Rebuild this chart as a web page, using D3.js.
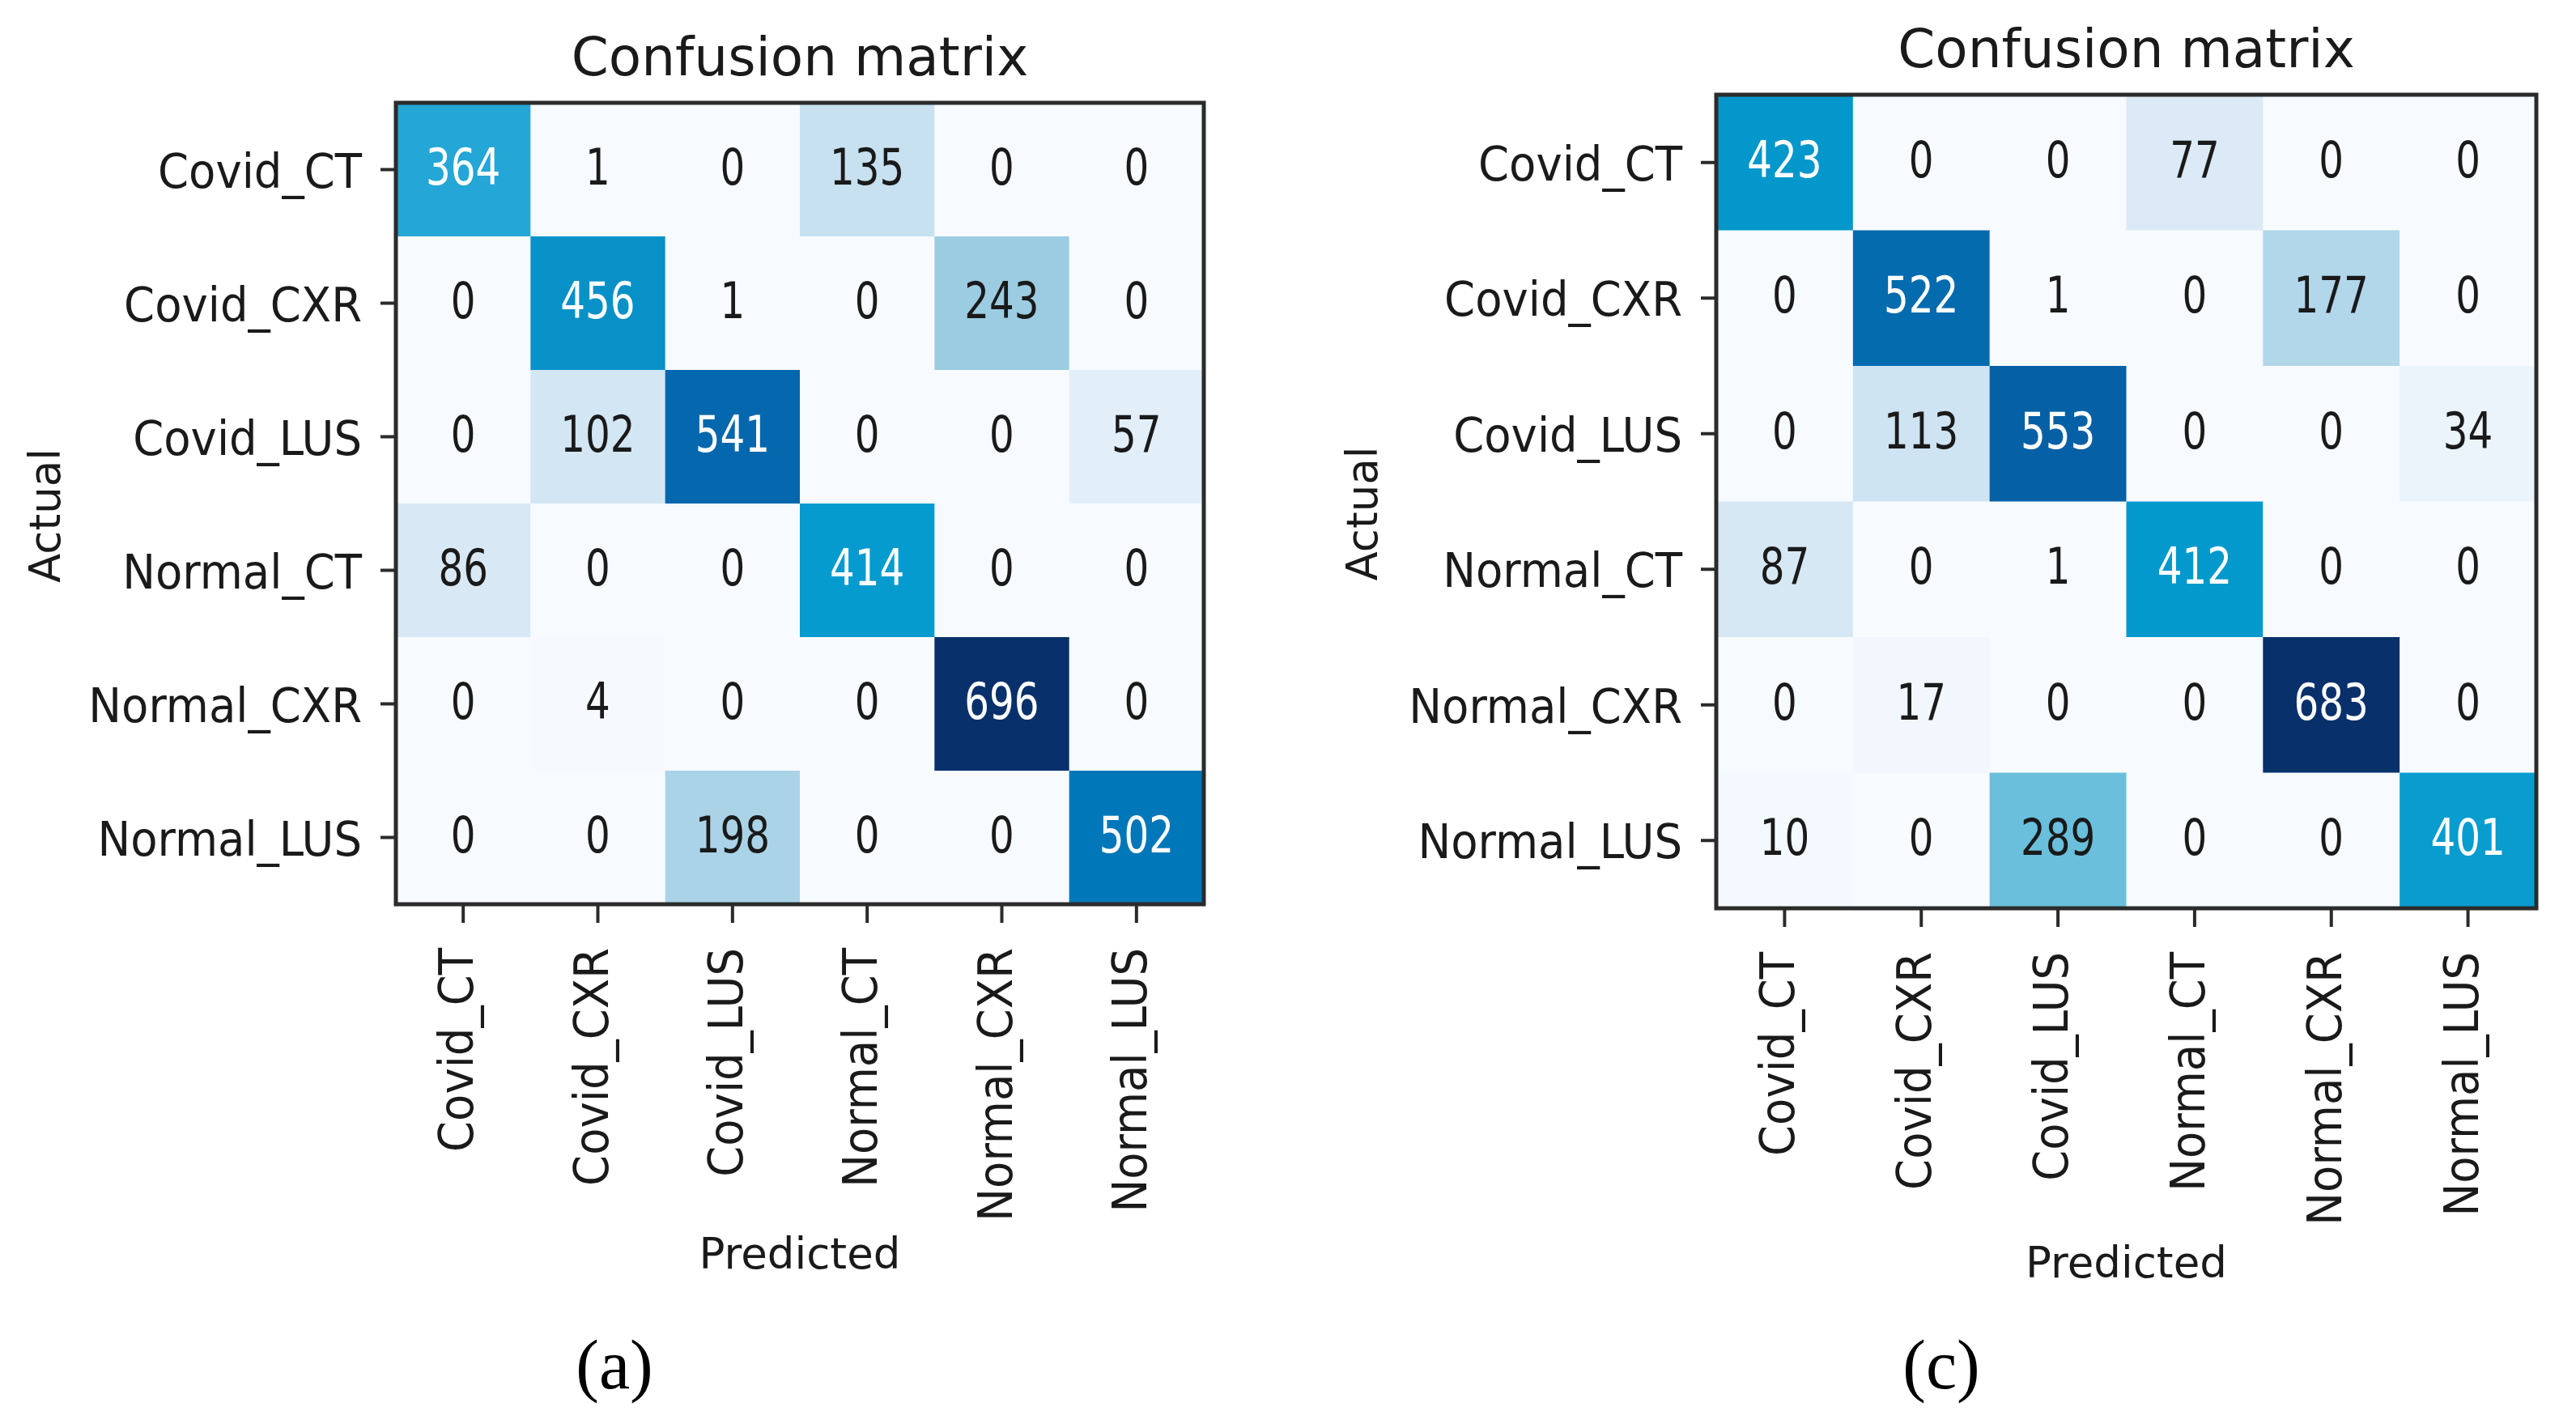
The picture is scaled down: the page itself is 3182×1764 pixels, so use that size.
<!DOCTYPE html>
<html lang="en">
<head>
<meta charset="UTF-8">
<title>Confusion matrices</title>
<script src="https://cdn.jsdelivr.net/npm/d3@7/dist/d3.min.js"></script>
<style>
  body, html {
    margin: 0;
    background: #fff;
  }
  svg {
    display: block;
    font-family: "DejaVu Sans", sans-serif;
  }
</style>
</head>
<body>
<svg width="3182" height="1764"></svg>
<script>
// classes, same order on both axes
const classes = ["Covid_CT", "Covid_CXR", "Covid_LUS", "Normal_CT", "Normal_CXR", "Normal_LUS"];
// rows = actual, columns = predicted
const matrixA = [
  [364, 1, 0, 135, 0, 0],
  [0, 456, 1, 0, 243, 0],
  [0, 102, 541, 0, 0, 57],
  [86, 0, 0, 414, 0, 0],
  [0, 4, 0, 0, 696, 0],
  [0, 0, 198, 0, 0, 502]
];
const matrixC = [
  [423, 0, 0, 77, 0, 0],
  [0, 522, 1, 0, 177, 0],
  [0, 113, 553, 0, 0, 34],
  [87, 0, 1, 412, 0, 0],
  [0, 17, 0, 0, 683, 0],
  [10, 0, 289, 0, 0, 401]
];
const panelTags = ["(a)", "(c)"];
const titleText = "Confusion matrix";
const xLabel = "Predicted";
const yLabel = "Actual";

// colour ramp as it looks in the picture (a saturated "Blues")
const rampT = [0, 0.12, 0.2, 0.28, 0.35, 0.42, 0.52, 0.6, 0.66, 0.72, 0.77, 0.81, 1];
const rampC = ["#f7fbff", "#d9e9f5", "#c6e0f0", "#abd3e8", "#9ccce2", "#6cc0dc", "#25a6d7",
               "#039acd", "#0790c6", "#0077b8", "#0569ae", "#0560a6", "#08306b"];

(function(){
  const svg = d3.select("svg");
  const ink = "#1a1a1a";

  const panels = [
    {m: matrixA, tag: panelTags[0], x0: 489, x1: 1487, y0: 127, y1: 1117,
     titleY: 93, xlabY: 1567, ylabX: 74, tagX: 759, tagY: 1715},
    {m: matrixC, tag: panelTags[1], x0: 2120, x1: 3133, y0: 117, y1: 1122,
     titleY: 83, xlabY: 1578, ylabX: 1701, tagX: 2398, tagY: 1715}
  ];

  panels.forEach(p => {
    const g = svg.append("g");
    const x = d3.scaleBand().domain(classes).range([p.x0, p.x1]);
    const y = d3.scaleBand().domain(classes).range([p.y0, p.y1]);
    const vmax = d3.max(p.m.flat());
    const color = d3.scaleLinear().domain(rampT.map(t => t * vmax)).range(rampC)
      .interpolate(d3.interpolateRgb).clamp(true);

    const cells = [];
    p.m.forEach((row, i) => row.forEach((v, j) => cells.push({a: classes[i], pr: classes[j], v})));

    g.selectAll("rect.cell").data(cells).enter().append("rect")
      .attr("class", "cell")
      .attr("x", d => x(d.pr)).attr("y", d => y(d.a))
      .attr("width", x.bandwidth() + 0.5).attr("height", y.bandwidth() + 0.5)
      .attr("fill", d => color(d.v));

    g.selectAll("text.val").data(cells).enter().append("text")
      .attr("class", "val")
      .attr("transform", d => `translate(${x(d.pr) + x.bandwidth() / 2},${y(d.a) + y.bandwidth() / 2 + 18}) scale(0.78,1)`)
      .attr("text-anchor", "middle")
      .style("font-size", "62px")
      .attr("fill", d => d.v > vmax / 2 ? "#ffffff" : ink)
      .text(d => d.v);

    // frame
    g.append("rect")
      .attr("x", p.x0).attr("y", p.y0)
      .attr("width", p.x1 - p.x0).attr("height", p.y1 - p.y0)
      .attr("fill", "none").attr("stroke", "#2b2b2b").attr("stroke-width", 5);

    // y axis
    const ya = g.append("g").attr("transform", `translate(${p.x0},0)`)
      .call(d3.axisLeft(y).tickSize(19).tickPadding(0));
    ya.select(".domain").remove();
    ya.selectAll(".tick line").attr("stroke", "#2b2b2b").attr("stroke-width", 4);
    ya.selectAll(".tick text")
      .attr("x", null).attr("dy", null)
      .attr("transform", `translate(-42,22) scale(0.94,1)`)
      .attr("text-anchor", "end").attr("fill", ink)
      .style("font-size", "58px").style("font-family", "DejaVu Sans");

    // x axis
    const xa = g.append("g").attr("transform", `translate(0,${p.y1})`)
      .call(d3.axisBottom(x).tickSize(23).tickPadding(0));
    xa.select(".domain").remove();
    xa.selectAll(".tick line").attr("stroke", "#2b2b2b").attr("stroke-width", 4);
    xa.selectAll(".tick text")
      .attr("y", null).attr("dy", null)
      .attr("transform", `translate(12,54) rotate(-90) scale(0.94,1)`)
      .attr("text-anchor", "end").attr("fill", ink)
      .style("font-size", "58px").style("font-family", "DejaVu Sans");

    const cx = (p.x0 + p.x1) / 2, cy = (p.y0 + p.y1) / 2;
    g.append("text").attr("x", cx).attr("y", p.titleY)
      .attr("text-anchor", "middle").attr("fill", ink)
      .style("font-size", "66px").text(titleText);
    g.append("text").attr("x", cx).attr("y", p.xlabY)
      .attr("text-anchor", "middle").attr("fill", ink)
      .style("font-size", "53px").text(xLabel);
    g.append("text")
      .attr("transform", `translate(${p.ylabX},${cy + 15}) rotate(-90)`)
      .attr("text-anchor", "middle").attr("fill", ink)
      .style("font-size", "53px").text(yLabel);
    g.append("text").attr("x", p.tagX).attr("y", p.tagY)
      .attr("text-anchor", "middle").attr("fill", "#000")
      .style("font-family", "'Liberation Serif', serif").style("font-size", "86px")
      .text(p.tag);
  });
})();
</script>
</body>
</html>
